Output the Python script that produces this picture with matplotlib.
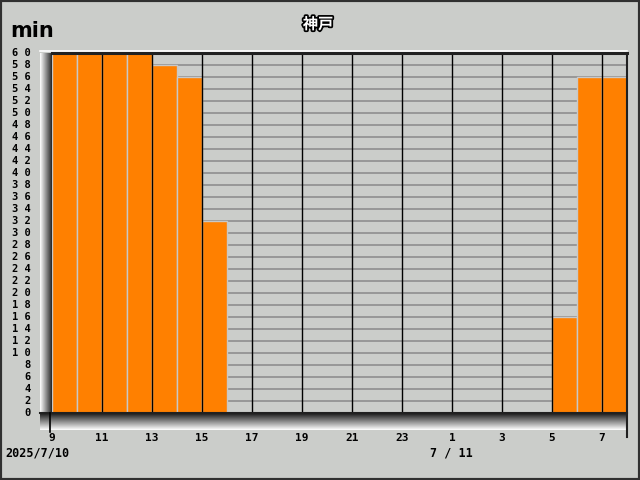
import numpy as np
import matplotlib
matplotlib.use('Agg')
from matplotlib import pyplot as plt
import matplotlib.patheffects as pe

# Sunshine minutes per hour, Kobe, 2025/7/10 9:00 -> 7/11 7:00
hours = [9, 10, 11, 12, 13, 14, 15, 16, 17, 18, 19, 20, 21, 22, 23,
         0, 1, 2, 3, 4, 5, 6, 7]
minutes = [60, 60, 60, 60, 58, 56, 32, 0, 0, 0, 0, 0, 0, 0, 0,
           0, 0, 0, 0, 0, 16, 56, 56]
tick_labels = ['9', '11', '13', '15', '17', '19', '21', '23', '1', '3', '5', '7']
y_ticks = list(range(0, 61, 2))

bg = '#cbcdca'
orange = '#ff8000'

W, H = 640, 480
fig = plt.figure(figsize=(6.4, 4.8), dpi=100, facecolor=bg)

# pixel helpers
def fx(px):
    return px / W

def fy(py):
    return 1 - py / H

x0, x1 = 52, 627
y_top, y_bot = 53, 413

ax = fig.add_axes([fx(x0), fy(y_bot), fx(x1) - fx(x0), fy(y_top) - fy(y_bot)])
ax.set_facecolor(bg)
n = len(hours)
xs = np.arange(n)
ax.set_xlim(0, n)
ax.set_ylim(0, 60)

# horizontal grid behind bars
for v in y_ticks[1:-1]:
    ax.axhline(v, color='#939393', lw=1.3, zorder=1)

ax.bar(xs, minutes, width=1.0, align='edge', color=orange,
       edgecolor='#c8c8c8', linewidth=1.0, zorder=2)

# vertical grid every 2 hours on top
for i in range(2, n, 2):
    ax.axvline(i, color='black', lw=1.0, zorder=3)

for s in ax.spines.values():
    s.set_visible(False)
ax.set_xticks([])
ax.set_yticks([])

# 3D-ish frame: left gradient strip
grad = np.linspace(1, 0.15, 64).reshape(1, -1)
axl = fig.add_axes([fx(40), fy(y_bot), fx(52) - fx(40), fy(y_top) - fy(y_bot)])
axl.imshow(grad, aspect='auto', cmap='gray', vmin=0, vmax=1.0, extent=[0, 1, 0, 1])
axl.axis('off')

# bottom gradient strip
gradb = np.linspace(0.1, 1, 64).reshape(-1, 1)
axb = fig.add_axes([fx(40), fy(430), fx(x1) - fx(40), fy(y_bot) - fy(430)])
axb.imshow(gradb, aspect='auto', cmap='gray', vmin=0, vmax=1.0, extent=[0, 1, 0, 1])
axb.axis('off')

# top edge
fig.add_artist(plt.Line2D([fx(40), fx(x1)], [fy(51), fy(51)], color='white', lw=1.2))
fig.add_artist(plt.Line2D([fx(52), fx(x1)], [fy(53), fy(53)], color='#202020', lw=2.2))
# right edge
fig.add_artist(plt.Line2D([fx(x1), fx(x1)], [fy(53), fy(437)], color='#202020', lw=1.5))
# zero line and left tick
fig.add_artist(plt.Line2D([fx(40), fx(x1)], [fy(413), fy(413)], color='#202020', lw=1.5))
fig.add_artist(plt.Line2D([fx(50), fx(50)], [fy(413), fy(432)], color='black', lw=1.2))

# y tick labels
for v in y_ticks:
    py = y_bot - (y_bot - y_top) * v / 60
    fig.text(fx(31), fy(py), ' '.join(str(v)), ha='right', va='center',
             fontsize=7.5, fontweight='bold', family='DejaVu Sans Mono')

# x tick labels
for k, lab in enumerate(tick_labels):
    px = x0 + (x1 - x0) * (2 * k) / n
    fig.text(fx(px), fy(438), lab, ha='center', va='center',
             fontsize=8, fontweight='bold', family='DejaVu Sans Mono')

fig.text(fx(37), fy(453), '2025/7/10', ha='center', va='center',
         fontsize=8.5, fontweight='bold', family='DejaVu Sans Mono')
fig.text(fx(451), fy(453), '7 / 11', ha='center', va='center',
         fontsize=8.5, fontweight='bold', family='DejaVu Sans Mono')

fig.text(fx(10), fy(31), 'min', ha='left', va='center',
         fontsize=15, fontweight='bold', family='DejaVu Sans')

fig.text(fx(318), fy(24), '神戸', ha='center', va='center', color='white',
         fontsize=11, fontweight='bold', family=['Noto Sans CJK JP', 'DejaVu Sans'],
         path_effects=[pe.withStroke(linewidth=2.5, foreground='black')])

# outer frame
fig.add_artist(plt.Rectangle((0, 0), 1, 1, transform=fig.transFigure,
                             fill=False, edgecolor='#303030', lw=3))

fig.savefig('out.png', dpi=100, facecolor=bg)
